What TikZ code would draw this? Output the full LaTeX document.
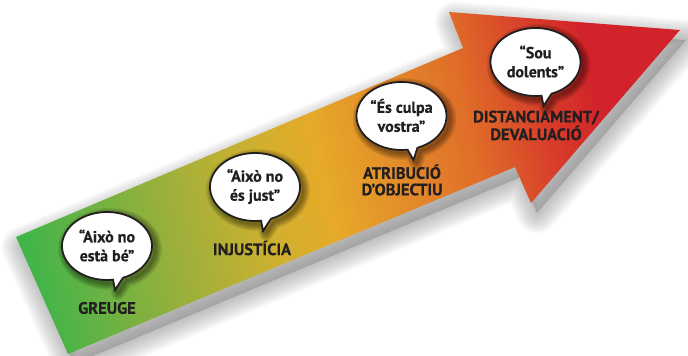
\documentclass[tikz,border=0pt]{standalone}
\usepackage{fontspec}
\setmainfont{PT Sans}[BoldFeatures={FakeBold=0.5}]
\usetikzlibrary{calc}
\definecolor{txt}{HTML}{231F20}
\definecolor{cg}{HTML}{3BB54A}
\definecolor{c2}{HTML}{96B03C}
\definecolor{c3}{HTML}{CDB030}
\definecolor{c4}{HTML}{E6AA28}
\definecolor{c5}{HTML}{E38C2A}
\definecolor{c6}{HTML}{E06E28}
\definecolor{c7}{HTML}{D8402A}
\definecolor{cr}{HTML}{D2232A}
\definecolor{shadowc}{HTML}{7A7A7A}
\pgfdeclarehorizontalshading{arrowgrad}{100bp}{color(0bp)=(cg); color(25bp)=(cg); color(35.5bp)=(c2); color(42.9bp)=(c3); color(47.6bp)=(c4); color(52.9bp)=(c5); color(58.4bp)=(c6); color(63.6bp)=(c7); color(67.9bp)=(cr); color(100bp)=(cr)}
\tikzset{
  arrowoutline/.style={insert path={(16,119) -- (463,308) -- (449,344) -- (680,326) -- (531,153) -- (515,189) -- (68,2) -- cycle}},
  bubbleoutline/.style={insert path={(290.8:45 and 34) arc[start angle=290.8, end angle=637.7, x radius=45, y radius=34] -- (#1,-44) -- cycle}},
  bubtext/.style={align=center, font=\bfseries\fontsize{16}{19}\selectfont, text=txt, inner sep=0pt},
  lab/.style={align=center, font=\bfseries\fontsize{16.5}{16.5}\selectfont, text=txt, inner sep=0pt}
}
\newcommand\spbubble[5]{%
  \begin{scope}[shift={(#2,#3)}]
    \foreach \r in {1,...,7} {
      \pgfmathsetmacro\w{2*\r}
      \draw[black, opacity=0.07, line width=\w pt, line join=round, shift={(3,-3)}, bubbleoutline={#4}];
    }
    \filldraw[fill=white, draw=txt, line width=1.8pt, bubbleoutline={#4}];
    \node[bubtext] (#1) at (0,0.5) {#5};
  \end{scope}}
\begin{document}
\begin{tikzpicture}[x=1pt,y=1pt]
\useasboundingbox (0,0) rectangle (688,356);
% shadow of the arrow
\begin{scope}[shift={(6,-10)}]
  \foreach \r in {2,4,...,20} {
    \pgfmathsetmacro\w{2*\r}
    \draw[shadowc, opacity=0.06, line width=\w pt, line join=round, arrowoutline];
  }
  \fill[shadowc, opacity=0.4, arrowoutline];
\end{scope}
% arrow with gradient
\begin{scope}
  \clip[arrowoutline];
  \begin{scope}[transform canvas={rotate around={12:(348,178)}}]
    \shade[shading=arrowgrad] (8,-250) rectangle (708,606);
  \end{scope}
\end{scope}
% bubbles
\spbubble{b1}{107}{110}{8}{“Això no\\està bé”}
\spbubble{b2}{255}{169}{8}{“Això no\\és just”}
\spbubble{b3}{401.5}{240}{12}{“És culpa\\vostra”}
\spbubble{b4}{535.5}{294}{8}{“Sou\\dolents”}
% labels
\node[lab] (l1) at (107,48) {GREUGE};
\node[lab] (l2) at (252,108) {INJUSTÍCIA};
\node[lab] (l3) at (402,176) {ATRIBUCIÓ\\D’OBJECTIU};
\node[lab] (l4) at (536,230.5) {DISTANCIAMENT/\\DEVALUACIÓ};
\end{tikzpicture}
\end{document}
